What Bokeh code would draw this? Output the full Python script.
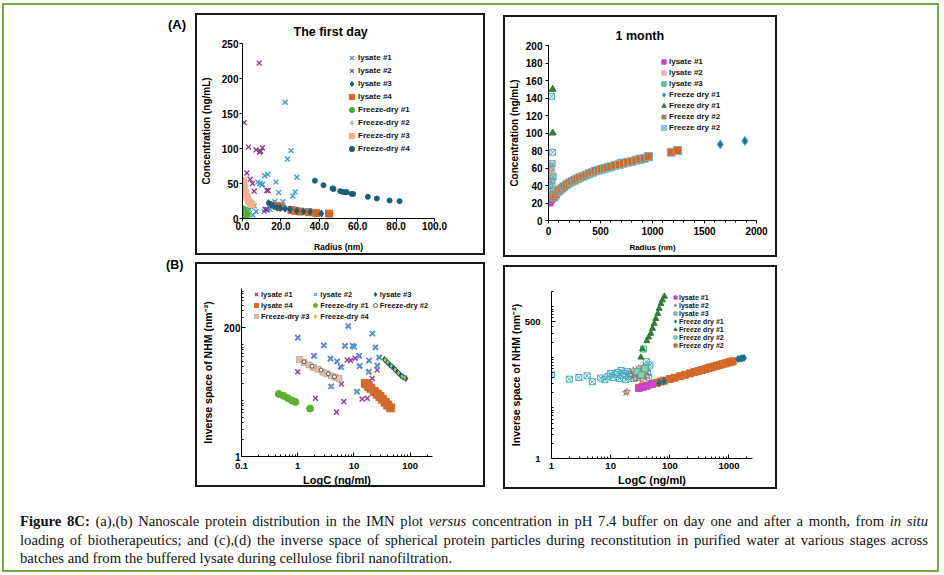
from bokeh.plotting import figure
from bokeh.layouts import column, row
from bokeh.models import (Range1d, Legend, LegendItem, Div, Spacer, FixedTicker,
                          CustomJSTickFormatter, NumeralTickFormatter)
from bokeh.embed import file_html
from bokeh.resources import INLINE

FONT = "Liberation Sans"

# ---------------- (a) The first day : Radius (nm) vs Concentration (ng/mL)
a_lys1_x = [0.9, 2.3, 3.5, 4.3, 5.4, 6.1, 7.1, 8.0, 9.2, 10.4, 11.5, 13.2, 14.4, 15.8, 17.4, 18.9, 19.3,
            21.0, 21.4, 22.2, 23.4, 25.3, 26.2, 27.4, 28.3, 13.0, 16.8, 15.3, 11.3, 23.1, 10.0, 9.0]
a_lys1_y = [33, 31, 13, 17, 5, 18, 10, 52, 50, 49, 61, 63, 13, 18, 52, 37, 14,
            24, 15, 166, 85, 97, 32, 38, 59, 12, 24, 22, 10, 14, 48, 50]
a_lys2_x = [0.9, 8.7, 3.1, 7.1, 8.9, 10.4, 2.3, 4.0, 5.2, 6.1, 12.7, 13.4, 11.8, 12.7, 1.4, 9.5]
a_lys2_y = [137, 222, 102, 98, 95, 101, 65, 56, 50, 39, 40, 40, 13, 13, 7, 96]
a_lys3_x = [13.5, 14.8, 16.1, 17.9, 19.6, 22.2, 24.8, 28.3, 31.8, 35.2, 41.1]
a_lys3_y = [22, 20, 18, 16, 15, 14, 13, 11, 10, 9.5, 7]
a_lys4_x = [17.9, 19.6, 25.5, 27.4, 30.0, 34.4, 38.4, 45.1]
a_lys4_y = [18, 17, 12, 11, 10, 9, 8, 7]
a_fd1_x = [0.5, 0.9, 1.2, 1.7, 2.3, 0.9, 0.6]
a_fd1_y = [13, 10, 9, 7, 6, 6, 8]
a_fd2_x = [26.6, 33.5, 40.0, 45.7, 18.0, 22.0]
a_fd2_y = [10, 10, 8, 7, 17, 15]
a_fd3_x = [0.5, 0.6, 0.7, 0.85, 1.0, 1.3, 1.6, 2.1, 2.6, 3.3, 4.0, 4.7]
a_fd3_y = [54, 51, 48, 45, 42, 39, 37, 32, 29, 25, 22, 20]
a_fd4_x = [37.7, 42.2, 46.9, 47.4, 50.9, 52.3, 53.5, 54.3, 56.9, 57.6, 65.3, 70.0, 76.6, 81.8]
a_fd4_y = [54, 47.6, 43, 42, 39, 38, 37.6, 37.6, 35, 35, 31, 28.6, 25.7, 24.8]
a_xticks = [0, 20, 40, 60, 80, 100]
a_yticks = [0, 50, 100, 150, 200, 250]

# ---------------- (b) 1 month
b_lys1_x = [15, 20, 30, 40, 50, 60]
b_lys1_y = [20, 22, 24, 25, 26, 27]
b_lys2_x = [3, 5, 8, 10, 12, 15, 18, 20, 22, 25, 28, 30, 33, 35, 38, 40, 42, 45, 10, 20, 30, 15, 25, 35]
b_lys2_y = [22, 28, 33, 38, 42, 46, 50, 54, 58, 61, 63, 60, 56, 52, 47, 42, 36, 30, 25, 30, 36, 55, 45, 40]
b_lys3_x = [700, 880, 960, 1240]
b_lys3_y = [65.5, 70, 73, 80]
b_fd1_x = [1652, 1888]
b_fd1_y = [87, 91]
b_fd1t_x = [40, 40]
b_fd1t_y = [150, 100]
b_fd2_x = [50, 70, 90, 110, 130, 150, 175, 200, 225, 250, 275, 300, 330, 360, 390, 420, 450, 480,
           510, 540, 570, 600, 640, 680, 720, 760, 800, 840, 880, 920, 960, 1180, 1240]
b_fd2_y = [27, 30, 33, 35, 37, 39, 41, 43, 44.5, 46, 47.5, 49, 50.5, 52, 53.5, 55, 56.5, 57.5,
           58.5, 59.5, 60.5, 61.5, 63, 64, 65.5, 66.5, 67.5, 69, 70, 71, 73, 78, 80]
b_fd2s_x = [30, 40, 20, 35, 10, 45, 15, 25, 40, 50]
b_fd2s_y = [142, 78, 60, 65, 40, 50, 25, 45, 30, 35]
b_xticks = [0, 500, 1000, 1500, 2000]
b_yticks = [0, 20, 40, 60, 80, 100, 120, 140, 160, 180, 200]

# ---------------- (c) LogC vs inverse space, first day
c_lys1_x = [1, 1, 1.93, 2.9, 2.07, 3.8, 5, 5.8, 3.9, 6, 4.9, 6.6, 6.9, 7.9, 10, 9.4, 7.6, 8.7, 10.5,
            12.5, 12.5, 11.4, 14, 18.5, 18.5, 21.2, 21.2, 24, 25.9, 25.9, 28, 17.3, 17.3, 20, 25, 30, 35, 45]
c_lys1_y = [133, 32.5, 63, 97, 11, 56, 50, 40, 17.7, 19.7, 6.2, 9.6, 95, 215, 92, 95, 53, 52, 57,
            63, 41, 14.5, 10.6, 33, 52, 24.8, 157, 89, 42, 35, 59, 11, 16.5, 17, 14, 11, 10, 7.4]
c_lys2_x = [1.02, 2.0, 2.95, 3.9, 5.1, 6.1, 7.0, 8.0, 9.6, 10.2, 12.2, 12.8, 18.0, 19.0, 21.5, 24.5,
            26.5, 28.5, 11.2, 4.0]
c_lys2_y = [130, 62, 95, 55, 49, 39, 93, 210, 94, 90, 62, 42, 32, 51, 155, 87, 41, 58, 14.2, 18]
c_lys3_x = [35, 38, 41, 44, 48, 52, 56, 60, 65, 70, 76, 84]
c_lys3_y = [54, 50, 46.5, 43, 40, 37, 34.5, 32, 29.5, 27.5, 26, 24.8]
c_lys4_x = [16, 18, 20, 23, 26, 29, 32, 36, 40, 45]
c_lys4_y = [20.2, 18.5, 16.5, 14.5, 13, 11.8, 10.5, 9.3, 8.3, 7.4]
c_fd1_x = [0.46, 0.56, 0.67, 0.79, 0.91, 1.66]
c_fd1_y = [13.1, 12.1, 11.0, 10.0, 9.4, 7.2]
c_fd2_x = [1.3, 1.8, 2.6, 3.5, 4.5]
c_fd2_y = [49, 41, 35, 30, 26.5]
c_fd3_x = [1.07, 1.3, 1.6, 1.9, 2.3, 2.8, 3.3, 4.0, 4.7, 5.4]
c_fd3_y = [54, 48, 43, 39, 36, 32, 30, 27.5, 26, 24.8]
c_fd4_x = [36, 40, 46, 54, 62, 72, 80]
c_fd4_y = [53, 48, 41.5, 35.5, 31, 27, 25.5]
c_xticks = [0.1, 1, 10, 100]
c_yticks = [1, 200]

# ---------------- (d) LogC vs inverse space, 1 month
d_lys1_x = [30, 33, 36, 40, 45, 50]
d_lys1_y = [24.5, 25.3, 26, 27, 28.3, 29.5]
d_lys2_x = [22, 25, 28, 30, 32, 35, 38, 40, 42, 26, 34, 30, 36, 24, 18, 19]
d_lys2_y = [45, 50, 55, 40, 48, 58, 44, 52, 42, 38, 36, 62, 66, 56, 20, 21]
d_lys3_x = [28, 33, 38]
d_lys3_y = [52, 45, 60]
d_fd1_x = [66, 80, 1420, 1550, 1660, 1800]
d_fd1_y = [31, 34, 92, 94, 96, 97]
d_fd1t_x = [32.4, 34.6, 41, 44, 47.9, 51, 54.6, 58, 62.6, 66, 70.8, 75, 81]
d_fd1t_y = [100, 146, 211, 250, 295, 370, 465, 580, 730, 920, 1150, 1350, 1600]
d_fd2s_x = [1, 2, 2.9, 4, 4.9, 6.8, 8, 9, 10, 11, 12, 13, 14, 15, 16, 17, 18, 19, 20, 22, 24, 26, 28,
            30, 33, 36, 39, 42, 44, 46, 36, 40]
d_fd2s_y = [45, 37, 40, 43, 33, 39, 36, 42, 48, 40, 46, 50, 38, 55, 44, 48, 36, 52, 42, 46, 38, 50, 44,
            40, 55, 46, 60, 50, 40, 70, 146, 82]
d_fd2_x = [30, 35, 40, 50, 60, 70, 80, 100, 120, 150, 180, 220, 260, 300, 350, 400, 450, 500, 560,
           620, 700, 780, 860, 960, 1060, 1150]
d_fd2_y = [25.0, 26.4, 27.5, 29.6, 31.5, 33.1, 34.6, 37.2, 39.5, 42.4, 45.0, 48.1, 50.8, 53.2, 56.0,
           58.8, 61.2, 63.4, 65.9, 68.1, 70.9, 73.4, 75.8, 78.6, 81.1, 83.3]
d_xticks = [1, 10, 100, 1000]
d_yticks = [1, 500]


def log_minors(lo_exp, hi_exp, limit_hi):
    out = []
    for e in range(lo_exp, hi_exp + 1):
        for m in range(1, 10):
            v = m * 10.0 ** e
            if v <= limit_hi * 1.0001:
                out.append(v)
    return out


def base_fig(w, h, xr, yr, borders, xtype="linear", ytype="linear", title=None):
    t, r, b, l = borders
    p = figure(width=w, height=h, x_range=xr, y_range=yr, x_axis_type=xtype, y_axis_type=ytype,
               output_backend="svg", toolbar_location=None, title=title,
               min_border_top=t, min_border_right=r, min_border_bottom=b, min_border_left=l)
    p.xgrid.visible = False
    p.ygrid.visible = False
    p.outline_line_color = None
    p.background_fill_color = None
    p.border_fill_color = None
    p.styles = {"border": "2px solid #1a1a1a"}
    for ax in (p.xaxis[0], p.yaxis[0]):
        ax.axis_line_color = "black"
        ax.axis_line_width = 1
        ax.major_tick_line_color = "black"
        ax.minor_tick_line_color = "black"
        ax.major_label_text_font = FONT
        ax.major_label_text_font_style = "bold"
        ax.major_label_text_color = "black"
        ax.axis_label_text_font = FONT
        ax.axis_label_text_font_style = "bold"
        ax.axis_label_text_color = "black"
    if title is not None:
        p.title.text_font = FONT
        p.title.text_font_style = "bold"
        p.title.text_font_size = "12.5px"
        p.title.align = "left"
        p.title.text_color = "black"
    return p


def pts(p, xs, ys, marker, size, fill, line=None, lw=1.0):
    return p.scatter(xs, ys, marker=marker, size=size, fill_color=fill,
                     line_color=(line if line is not None else fill), line_width=lw)


def add_legend(p, items, loc, fsize, lh, gw=8, gh=8, ncols=1, spacing=0, standoff=0):
    leg = Legend(items=[LegendItem(label=lab, renderers=[r]) for lab, r in items],
                 location=loc, label_text_font=FONT, label_text_font_size=fsize,
                 label_text_font_style="bold", label_text_color="#111",
                 label_height=lh, glyph_height=gh, glyph_width=gw, label_standoff=standoff,
                 spacing=spacing, padding=0, margin=0, border_line_color=None,
                 background_fill_alpha=0, ncols=ncols)
    p.add_layout(leg)


# ======== panel (a)
pa = base_fig(290, 242, Range1d(0, 100), Range1d(0, 250), (28, 53, 39, 45), title="The first day")
pa.title.offset = 51
pa.title.standoff = 9
pa.xaxis.ticker = FixedTicker(ticks=a_xticks)
pa.yaxis.ticker = FixedTicker(ticks=a_yticks)
pa.xaxis.formatter = NumeralTickFormatter(format="0.0")
pa.xaxis.axis_label = "Radius (nm)"
pa.yaxis.axis_label = "Concentration (ng/mL)"
for ax in (pa.xaxis[0], pa.yaxis[0]):
    ax.major_tick_out = 3
    ax.major_tick_in = 0
    ax.minor_tick_out = 0
    ax.minor_tick_in = 0
    ax.major_label_text_font_size = "10px"
pa.xaxis.major_label_standoff = 0
pa.xaxis.axis_label_standoff = 9
pa.xaxis.axis_label_text_font_size = "8.5px"
pa.yaxis.major_label_standoff = 1
pa.yaxis.axis_label_standoff = 7
pa.yaxis.axis_label_text_font_size = "10px"

ra1 = pts(pa, a_lys1_x, a_lys1_y, "x", 7, "#3D9BD1", lw=1.3)
ra2 = pts(pa, a_lys2_x, a_lys2_y, "x", 7, "#8B3A8B", lw=1.3)
ra6 = pts(pa, a_fd2_x, a_fd2_y, "cross", 7, "#A0A0A0", lw=1.2)
ra4 = pts(pa, a_lys4_x, a_lys4_y, "square", 7, "#D2692B")
ra3 = pts(pa, a_lys3_x, a_lys3_y, "diamond", 7, "#1F5C78")
ra7 = pts(pa, a_fd3_x, a_fd3_y, "square", 6, "#F4AE92")
ra5 = pts(pa, a_fd1_x, a_fd1_y, "circle", 7, "#4CAF32")
ra8 = pts(pa, a_fd4_x, a_fd4_y, "circle", 5, "#1B5E7A")
add_legend(pa, [("lysate #1", ra1), ("lysate #2", ra2), ("lysate #3", ra3), ("lysate #4", ra4),
                ("Freeze-dry #1", ra5), ("Freeze-dry #2", ra6), ("Freeze-dry #3", ra7),
                ("Freeze-dry #4", ra8)], (103, 63), "8px", 13, gw=13, gh=13)

# ======== panel (b)
pb = base_fig(274, 242, Range1d(0, 2000), Range1d(0, 200), (28, 23, 38, 42), title="1 month")
pb.title.offset = 67
pb.title.standoff = 5
pb.xaxis.ticker = FixedTicker(ticks=b_xticks, minor_ticks=[v for v in range(100, 2000, 100) if v % 500])
pb.yaxis.ticker = FixedTicker(ticks=b_yticks)
pb.xaxis.axis_label = "Radius (nm)"
pb.yaxis.axis_label = "Concentration (ng/mL)"
for ax in (pb.xaxis[0], pb.yaxis[0]):
    ax.major_tick_out = 3
    ax.major_tick_in = 0
    ax.minor_tick_out = 2
    ax.minor_tick_in = 0
    ax.major_label_text_font_size = "10px"
    ax.major_label_standoff = 3
pb.xaxis.axis_label_standoff = 5
pb.xaxis.axis_label_text_font_size = "8px"
pb.yaxis.axis_label_standoff = 3
pb.yaxis.axis_label_text_font_size = "10px"

rb2 = pts(pb, b_lys2_x, b_lys2_y, "square", 6, "#F3B3A3")
rb7 = pts(pb, b_fd2s_x, b_fd2s_y, "square_x", 6, None, "#4BACC6", lw=1)
rb1 = pts(pb, b_lys1_x, b_lys1_y, "square", 6, "#CC44CC")
rb3 = pts(pb, b_lys3_x, b_lys3_y, "square", 8, "#7CC36A", "#4BACC6")
rb6 = pts(pb, b_fd2_x, b_fd2_y, "square", 8, "#D2692B", "#5FC6E0", lw=0.8)
rb4 = pts(pb, b_fd1_x, b_fd1_y, "diamond", 9, "#1F6E8C", "#4BACC6")
rb5 = pts(pb, b_fd1t_x, b_fd1t_y, "triangle", 7, "#2E7D32")
add_legend(pb, [("lysate #1", rb1), ("lysate #2", rb2), ("lysate #3", rb3), ("Freeze dry #1", rb4),
                ("Freeze dry #1", rb5), ("Freeze dry #2", rb6), ("Freeze dry #2", rb7)],
           (110, 87), "8px", 11, gw=11, gh=11)

# ======== panel (c)
pc = base_fig(290, 225, Range1d(0.1, 250), Range1d(1, 1000), (21, 55, 33, 44), "log", "log")
pc.xaxis.ticker = FixedTicker(ticks=c_xticks, minor_ticks=log_minors(-1, 2, 250))
pc.yaxis.ticker = FixedTicker(ticks=c_yticks, minor_ticks=log_minors(0, 2, 1000))
fmt = "return String(tick)"
pc.xaxis.formatter = CustomJSTickFormatter(code=fmt)
pc.yaxis.formatter = CustomJSTickFormatter(code=fmt)
pc.xaxis.axis_label = "LogC (ng/ml)"
pc.yaxis.axis_label = "Inverse space of NHM (nm\u207b\u00b2)"
for ax in (pc.xaxis[0], pc.yaxis[0]):
    ax.major_tick_out = 0
    ax.major_tick_in = 4
    ax.minor_tick_out = 0
    ax.minor_tick_in = 2
pc.xaxis.major_label_text_font_size = "9.5px"
pc.xaxis.major_label_standoff = 6
pc.xaxis.axis_label_standoff = 2
pc.xaxis.axis_label_text_font_size = "11px"
pc.yaxis.major_label_text_font_size = "10px"
pc.yaxis.major_label_standoff = 1
pc.yaxis.axis_label_standoff = 7
pc.yaxis.axis_label_text_font_size = "10.5px"

rc1 = pts(pc, c_lys1_x, c_lys1_y, "x", 7, "#9B3FA0", lw=1.5)
rc2 = pts(pc, c_lys2_x, c_lys2_y, "x", 7, "#3FA9D6", lw=1.3)
rc4 = pts(pc, c_lys4_x, c_lys4_y, "square", 8, "#D2692B")
rc3 = pts(pc, c_lys3_x, c_lys3_y, "diamond", 6, "#1F5C78")
rc8 = pts(pc, c_fd4_x, c_fd4_y, "diamond", 3, "#B5D334")
rc7 = pts(pc, c_fd3_x, c_fd3_y, "square", 6, "#F4B8A4", "#999999", lw=0.6)
rc6 = pts(pc, c_fd2_x, c_fd2_y, "circle", 4, "white", "#333333", lw=0.8)
rc5 = pts(pc, c_fd1_x, c_fd1_y, "circle", 7, "#5DB030")
# legend is filled column by column: order chosen so rows read lysate #1..#3 / #4, FD#1, FD#2 / FD#3, FD#4
add_legend(pc, [("lysate #1", rc1), ("lysate #4", rc4), ("Freeze-dry #3", rc7),
                ("lysate #2", rc2), ("Freeze-dry #1", rc5), ("Freeze-dry #4", rc8),
                ("lysate #3", rc3), ("Freeze-dry #2", rc6)], (10, 135), "7.5px", 9, gw=10, gh=10,
           ncols=3, spacing=1)

# ======== panel (d)
pd_ = base_fig(274, 224, Range1d(1, 2500), Range1d(1, 2000), (24, 27, 32, 46), "log", "log")
pd_.xaxis.ticker = FixedTicker(ticks=d_xticks, minor_ticks=log_minors(0, 3, 2500))
pd_.yaxis.ticker = FixedTicker(ticks=d_yticks, minor_ticks=log_minors(0, 3, 2000))
pd_.xaxis.formatter = CustomJSTickFormatter(code=fmt)
pd_.yaxis.formatter = CustomJSTickFormatter(code=fmt)
pd_.xaxis.axis_label = "LogC (ng/ml)"
pd_.yaxis.axis_label = "Inverse space of NHM (nm\u207b\u00b2)"
for ax in (pd_.xaxis[0], pd_.yaxis[0]):
    ax.major_tick_out = 0
    ax.major_tick_in = 4
    ax.minor_tick_out = 0
    ax.minor_tick_in = 2
    ax.major_label_text_font_size = "9.5px"
pd_.xaxis.major_label_standoff = 4
pd_.xaxis.axis_label_standoff = 2
pd_.xaxis.axis_label_text_font_size = "11px"
pd_.yaxis.major_label_standoff = 11
pd_.yaxis.axis_label_standoff = 0
pd_.yaxis.axis_label_text_font_size = "10.5px"

rd6 = pts(pd_, d_fd2s_x, d_fd2s_y, "square_x", 6, None, "#4BACC6", lw=1)
rd2 = pts(pd_, d_lys2_x, d_lys2_y, "star", 7, "#F3B8A6", "#555555", lw=0.5)
rd3 = pts(pd_, d_lys3_x, d_lys3_y, "square", 6, "#A0D080", "#4BACC6")
rd7 = pts(pd_, d_fd2_x, d_fd2_y, "square", 7, "#D2692B")
rd1 = pts(pd_, d_lys1_x, d_lys1_y, "square", 6, "#CC44CC")
rd4 = pts(pd_, d_fd1_x, d_fd1_y, "diamond", 7, "#1F6E8C")
rd5 = pts(pd_, d_fd1t_x, d_fd1t_y, "triangle", 6, "#2E7D32")
add_legend(pd_, [("lysate #1", rd1), ("lysate #2", rd2), ("lysate #3", rd3), ("Freeze dry #1", rd4),
                 ("Freeze dry #1", rd5), ("Freeze dry #2", rd6), ("Freeze dry #2", rd7)],
           (120, 109), "7px", 8, gw=8, gh=8)

# ======== page layout
lab_a = Div(text="<div style=\"padding:12px 0 0 164px;font:bold 13px 'Liberation Sans',Arial,sans-serif;color:#000\">(A)</div>",
            width=191, height=252, margin=(0, 0, 0, 0))
lab_b = Div(text="<div style=\"padding:0 0 0 162px;font:bold 12.5px 'Liberation Sans',Arial,sans-serif;color:#000\">(B)</div>",
            width=191, height=232, margin=(0, 0, 0, 0))
pa.margin = (8, 0, 0, 0)
pb.margin = (10, 0, 0, 0)
pc.margin = (5, 0, 0, 0)
pd_.margin = (8, 0, 0, 0)

cap_style = "width:908px;text-align:justify;text-align-last:justify;"
caption_html = (
    "<div style=\"width:908px;font-family:'Liberation Serif',serif;font-size:14.7px;line-height:18.5px;color:#111\">"
    f"<div style=\"{cap_style}\"><b>Figure 8C:</b> (a),(b) Nanoscale protein distribution in the IMN plot "
    "<i>versus</i> concentration in pH 7.4 buffer on day one and after a month, from <i>in situ</i></div>"
    f"<div style=\"{cap_style}\">loading of biotherapeutics; and (c),(d) the inverse space of spherical protein "
    "particles during reconstitution in purified water at various stages across</div>"
    "<div>batches and from the buffered lysate during cellulose fibril nanofiltration.</div>"
    "</div>")
caption = Div(text=caption_html, width=908, height=56, margin=(23, 0, 0, 16))

row_a = row(lab_a, pa, Spacer(width=18, height=10), pb)
row_b = row(lab_b, pc, Spacer(width=18, height=10), pd_)
page = column(row_a, row_b, caption, width=937, height=569, margin=(3, 0, 0, 2),
              styles={"border": "2px solid #70AD47", "background": "white"})

open("out.html", "w").write(file_html(page, INLINE))
